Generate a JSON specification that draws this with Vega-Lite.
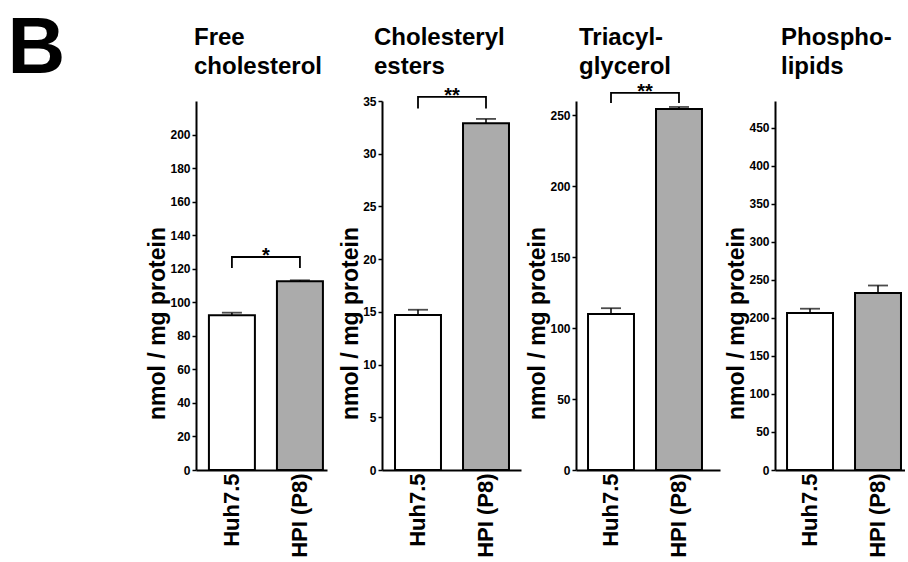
{
  "$schema": "https://vega.github.io/schema/vega-lite/v6.json",
  "padding": {"left": 7, "top": 8, "right": 0, "bottom": 0},
  "title": {"text": "B", "orient": "left", "anchor": "end", "angle": 0, "align": "right", "baseline": "top", "fontSize": 80, "fontWeight": "bold", "offset": 24, "dy": -16, "dx": 0, "color": "black", "frame": "bounds"},
  "config": {
    "font": "Liberation Sans",
    "view": {"stroke": null},
    "title": {"anchor": "start", "frame": "group", "fontSize": 24, "fontWeight": "bold", "lineHeight": 29, "color": "black", "font": "Liberation Sans"},
    "axis": {"grid": false, "domainColor": "black", "domainWidth": 2, "tickColor": "black", "labelColor": "black", "titleColor": "black", "labelFont": "Liberation Sans", "titleFont": "Liberation Sans", "labelFontWeight": "bold", "titleFontWeight": "bold", "labelOverlap": false},
    "axisX": {"ticks": false, "tickSize": 0, "labelAngle": -90, "labelFontSize": 22, "labelPadding": 3, "title": null},
    "axisY": {"tickSize": 4, "tickWidth": 1.5, "labelFontSize": 12, "labelPadding": 2, "titleFontSize": 23, "titlePadding": 0},
    "concat": {"spacing": 55}
  },
  "datasets": {
    "bars": [
      {"panel": "FC", "grp": "Huh7.5", "value": 92.2, "err": 93.8},
      {"panel": "FC", "grp": "HPI (P8)", "value": 112.6, "err": 113.1},
      {"panel": "CE", "grp": "Huh7.5", "value": 14.7, "err": 15.2},
      {"panel": "CE", "grp": "HPI (P8)", "value": 32.9, "err": 33.3},
      {"panel": "TG", "grp": "Huh7.5", "value": 110, "err": 114},
      {"panel": "TG", "grp": "HPI (P8)", "value": 254.4, "err": 255.8},
      {"panel": "PL", "grp": "Huh7.5", "value": 206.4, "err": 212},
      {"panel": "PL", "grp": "HPI (P8)", "value": 232.6, "err": 242.5}
    ],
    "brackets": [
      {"panel": "FC", "grp": "Huh7.5", "yv": 120.5, "ord": 1},
      {"panel": "FC", "grp": "Huh7.5", "yv": 127, "ord": 2},
      {"panel": "FC", "grp": "HPI (P8)", "yv": 127, "ord": 3},
      {"panel": "FC", "grp": "HPI (P8)", "yv": 120.5, "ord": 4},
      {"panel": "CE", "grp": "Huh7.5", "yv": 34.3, "ord": 1},
      {"panel": "CE", "grp": "Huh7.5", "yv": 35.4, "ord": 2},
      {"panel": "CE", "grp": "HPI (P8)", "yv": 35.4, "ord": 3},
      {"panel": "CE", "grp": "HPI (P8)", "yv": 34.3, "ord": 4},
      {"panel": "TG", "grp": "Huh7.5", "yv": 258.6, "ord": 1},
      {"panel": "TG", "grp": "Huh7.5", "yv": 265.7, "ord": 2},
      {"panel": "TG", "grp": "HPI (P8)", "yv": 265.7, "ord": 3},
      {"panel": "TG", "grp": "HPI (P8)", "yv": 258.6, "ord": 4}
    ],
    "stars": [
      {"panel": "FC", "grp": "Huh7.5", "label": "*", "yv": 127},
      {"panel": "CE", "grp": "Huh7.5", "label": "**", "yv": 35.4},
      {"panel": "TG", "grp": "Huh7.5", "label": "**", "yv": 265.7}
    ]
  },
  "hconcat": [
    {
      "width": 131, "height": 369,
      "title": {"text": ["Free", "cholesterol"], "offset": 22, "dx": -2},
      "layer": [
        {"data": {"name": "bars"}, "transform": [{"filter": "datum.panel === 'FC'"}],
         "mark": {"type": "bar", "stroke": "black", "strokeWidth": 2},
         "encoding": {
           "x": {"field": "grp", "type": "nominal", "scale": {"domain": ["Huh7.5", "HPI (P8)"], "paddingInner": 0.324, "paddingOuter": 0.125, "align": 0.76}, "axis": {"title": null}},
           "y": {"field": "value", "type": "quantitative", "scale": {"domain": [0, 220], "nice": false}, "axis": {"title": "nmol / mg protein", "values": [0, 20, 40, 60, 80, 100, 120, 140, 160, 180, 200], "tickCount": 20, "titleY": 222, "labelOverlap": false}},
           "color": {"field": "grp", "type": "nominal", "scale": {"domain": ["Huh7.5", "HPI (P8)"], "range": ["white", "#ababab"]}, "legend": null}
         }},
        {"data": {"name": "bars"}, "transform": [{"filter": "datum.panel === 'FC'"}],
         "mark": {"type": "rule", "color": "black", "strokeWidth": 1.5},
         "encoding": {"x": {"field": "grp", "type": "nominal"}, "y": {"field": "value", "type": "quantitative"}, "y2": {"field": "err"}}},
        {"data": {"name": "bars"}, "transform": [{"filter": "datum.panel === 'FC'"}],
         "mark": {"type": "tick", "color": "black", "size": 20, "thickness": 1.8},
         "encoding": {"x": {"field": "grp", "type": "nominal"}, "y": {"field": "err", "type": "quantitative"}}},
        {"data": {"name": "brackets"}, "transform": [{"filter": "datum.panel === 'FC'"}],
         "mark": {"type": "line", "color": "black", "strokeWidth": 1.8},
         "encoding": {"x": {"field": "grp", "type": "nominal"}, "y": {"field": "yv", "type": "quantitative"}, "order": {"field": "ord"}}},
        {"data": {"name": "stars"}, "transform": [{"filter": "datum.panel === 'FC'"}],
         "mark": {"type": "text", "fontSize": 20, "fontWeight": "bold", "baseline": "alphabetic", "dy": 5, "color": "black"},
         "encoding": {"x": {"field": "grp", "type": "nominal", "bandPosition": 1.24}, "y": {"field": "yv", "type": "quantitative"}, "text": {"field": "label"}}}
      ]
    },
    {
      "width": 139, "height": 369,
      "title": {"text": ["Cholesteryl", "esters"], "offset": 7, "dx": -8},
      "layer": [
        {"data": {"name": "bars"}, "transform": [{"filter": "datum.panel === 'CE'"}],
         "mark": {"type": "bar", "stroke": "black", "strokeWidth": 2},
         "encoding": {
           "x": {"field": "grp", "type": "nominal", "scale": {"domain": ["Huh7.5", "HPI (P8)"], "paddingInner": 0.324, "paddingOuter": 0.184, "align": 0.52}, "axis": {"title": null}},
           "y": {"field": "value", "type": "quantitative", "scale": {"domain": [0, 35], "nice": false}, "axis": {"title": "nmol / mg protein", "values": [0, 5, 10, 15, 20, 25, 30, 35], "tickCount": 20, "titleY": 222, "labelOverlap": false}},
           "color": {"field": "grp", "type": "nominal", "scale": {"domain": ["Huh7.5", "HPI (P8)"], "range": ["white", "#ababab"]}, "legend": null}
         }},
        {"data": {"name": "bars"}, "transform": [{"filter": "datum.panel === 'CE'"}],
         "mark": {"type": "rule", "color": "black", "strokeWidth": 1.5},
         "encoding": {"x": {"field": "grp", "type": "nominal"}, "y": {"field": "value", "type": "quantitative"}, "y2": {"field": "err"}}},
        {"data": {"name": "bars"}, "transform": [{"filter": "datum.panel === 'CE'"}],
         "mark": {"type": "tick", "color": "black", "size": 20, "thickness": 1.8},
         "encoding": {"x": {"field": "grp", "type": "nominal"}, "y": {"field": "err", "type": "quantitative"}}},
        {"data": {"name": "brackets"}, "transform": [{"filter": "datum.panel === 'CE'"}],
         "mark": {"type": "line", "color": "black", "strokeWidth": 1.8},
         "encoding": {"x": {"field": "grp", "type": "nominal"}, "y": {"field": "yv", "type": "quantitative"}, "order": {"field": "ord"}}},
        {"data": {"name": "stars"}, "transform": [{"filter": "datum.panel === 'CE'"}],
         "mark": {"type": "text", "fontSize": 20, "fontWeight": "bold", "baseline": "alphabetic", "dy": 5, "color": "black"},
         "encoding": {"x": {"field": "grp", "type": "nominal", "bandPosition": 1.24}, "y": {"field": "yv", "type": "quantitative"}, "text": {"field": "label"}}}
      ]
    },
    {
      "width": 144, "height": 369,
      "title": {"text": ["Triacyl-", "glycerol"], "offset": 3, "dx": 3},
      "layer": [
        {"data": {"name": "bars"}, "transform": [{"filter": "datum.panel === 'TG'"}],
         "mark": {"type": "bar", "stroke": "black", "strokeWidth": 2},
         "encoding": {
           "x": {"field": "grp", "type": "nominal", "scale": {"domain": ["Huh7.5", "HPI (P8)"], "paddingInner": 0.324, "paddingOuter": 0.221, "align": 0.4}, "axis": {"title": null}},
           "y": {"field": "value", "type": "quantitative", "scale": {"domain": [0, 260], "nice": false}, "axis": {"title": "nmol / mg protein", "values": [0, 50, 100, 150, 200, 250], "tickCount": 20, "titleY": 222, "labelOverlap": false}},
           "color": {"field": "grp", "type": "nominal", "scale": {"domain": ["Huh7.5", "HPI (P8)"], "range": ["white", "#ababab"]}, "legend": null}
         }},
        {"data": {"name": "bars"}, "transform": [{"filter": "datum.panel === 'TG'"}],
         "mark": {"type": "rule", "color": "black", "strokeWidth": 1.5},
         "encoding": {"x": {"field": "grp", "type": "nominal"}, "y": {"field": "value", "type": "quantitative"}, "y2": {"field": "err"}}},
        {"data": {"name": "bars"}, "transform": [{"filter": "datum.panel === 'TG'"}],
         "mark": {"type": "tick", "color": "black", "size": 20, "thickness": 1.8},
         "encoding": {"x": {"field": "grp", "type": "nominal"}, "y": {"field": "err", "type": "quantitative"}}},
        {"data": {"name": "brackets"}, "transform": [{"filter": "datum.panel === 'TG'"}],
         "mark": {"type": "line", "color": "black", "strokeWidth": 1.8},
         "encoding": {"x": {"field": "grp", "type": "nominal"}, "y": {"field": "yv", "type": "quantitative"}, "order": {"field": "ord"}}},
        {"data": {"name": "stars"}, "transform": [{"filter": "datum.panel === 'TG'"}],
         "mark": {"type": "text", "fontSize": 20, "fontWeight": "bold", "baseline": "alphabetic", "dy": 5, "color": "black"},
         "encoding": {"x": {"field": "grp", "type": "nominal", "bandPosition": 1.24}, "y": {"field": "yv", "type": "quantitative"}, "text": {"field": "label"}}}
      ]
    },
    {
      "width": 130, "height": 369,
      "title": {"text": ["Phospho-", "lipids"], "offset": 22, "dx": 6},
      "layer": [
        {"data": {"name": "bars"}, "transform": [{"filter": "datum.panel === 'PL'"}],
         "mark": {"type": "bar", "stroke": "black", "strokeWidth": 2},
         "encoding": {
           "x": {"field": "grp", "type": "nominal", "scale": {"domain": ["Huh7.5", "HPI (P8)"], "paddingInner": 0.324, "paddingOuter": 0.118, "align": 0.75}, "axis": {"title": null}},
           "y": {"field": "value", "type": "quantitative", "scale": {"domain": [0, 485], "nice": false}, "axis": {"title": "nmol / mg protein", "values": [0, 50, 100, 150, 200, 250, 300, 350, 400, 450], "tickCount": 20, "titleY": 222, "labelOverlap": false}},
           "color": {"field": "grp", "type": "nominal", "scale": {"domain": ["Huh7.5", "HPI (P8)"], "range": ["white", "#ababab"]}, "legend": null}
         }},
        {"data": {"name": "bars"}, "transform": [{"filter": "datum.panel === 'PL'"}],
         "mark": {"type": "rule", "color": "black", "strokeWidth": 1.5},
         "encoding": {"x": {"field": "grp", "type": "nominal"}, "y": {"field": "value", "type": "quantitative"}, "y2": {"field": "err"}}},
        {"data": {"name": "bars"}, "transform": [{"filter": "datum.panel === 'PL'"}],
         "mark": {"type": "tick", "color": "black", "size": 20, "thickness": 1.8},
         "encoding": {"x": {"field": "grp", "type": "nominal"}, "y": {"field": "err", "type": "quantitative"}}}
      ]
    }
  ],
  "bounds": "flush"
}
